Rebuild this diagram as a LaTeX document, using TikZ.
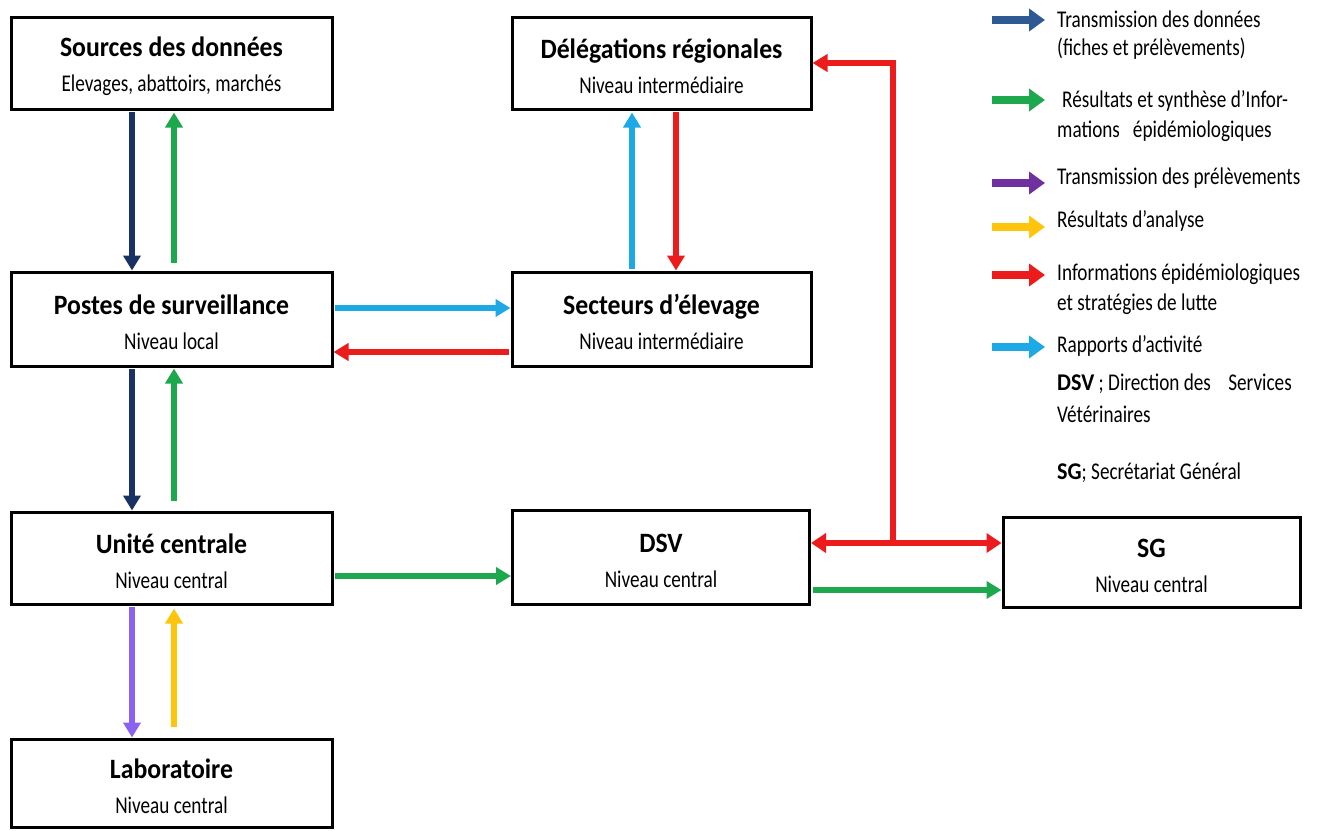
\documentclass[tikz,border=0pt]{standalone}
\usepackage{fontspec}
\setmainfont[FakeStretch=0.8]{Carlito}
\newfontfamily\bfam[FakeStretch=0.92]{Carlito}
\usetikzlibrary{arrows.meta}
\definecolor{cnavy}{HTML}{1A3263}
\definecolor{cgreen}{HTML}{1DA84E}
\definecolor{ccyan}{HTML}{1CA9E6}
\definecolor{cred}{HTML}{EC1C1C}
\definecolor{cpurple}{HTML}{8B62F0}
\definecolor{cyellow}{HTML}{FFC40C}
\definecolor{lnavy}{HTML}{2E5A94}
\definecolor{lpurple}{HTML}{7030A0}
\newcommand\bxt[2]{{\bfam\bfseries\fontsize{28}{35}\selectfont #1}\\#2}
\tikzset{
  box/.style={draw=black, line width=3pt, fill=white, inner sep=0pt, align=center,
    text height=61pt, font=\fontsize{24}{35}\selectfont},
  flow/.style={line width=5.5pt, -{Triangle[width=17pt,length=15pt]}},
  flow2/.style={line width=5.5pt, {Triangle[width=19pt,length=15pt]}-{Triangle[width=19pt,length=15pt]}},
  legarr/.style={line width=8pt, -{Triangle[width=22pt,length=16pt]}},
  legtxt/.style={anchor=base west, inner sep=0pt, font=\fontsize{24}{29}\selectfont},
}
\begin{document}
\begin{tikzpicture}[x=1pt,y=-1pt]
\useasboundingbox[fill=white] (0,0) rectangle (1324,830);

% boxes
\node[box, minimum width=321pt, minimum height=92pt] (src) at (171.5,63) {\bxt{Sources des données}{Elevages, abattoirs, marchés}};
\node[box, minimum width=321pt, minimum height=94pt] (pst) at (171.5,319) {\bxt{Postes de surveillance}{Niveau local}};
\node[box, minimum width=321pt, minimum height=92pt] (uc) at (171.5,558) {\bxt{Unité centrale}{Niveau central}};
\node[box, minimum width=321pt, minimum height=88pt] (lab) at (171.5,783) {\bxt{Laboratoire}{Niveau central}};
\node[box, minimum width=299pt, minimum height=92pt] (del) at (661.5,63) {\bxt{Délégations régionales}{Niveau intermédiaire}};
\node[box, minimum width=299pt, minimum height=94pt] (sec) at (661.5,319) {\bxt{Secteurs d’élevage}{Niveau intermédiaire}};
\node[box, minimum width=297pt, minimum height=94pt] (dsv) at (661,557) {\bxt{DSV}{Niveau central}};
\node[box, minimum width=297pt, minimum height=90pt] (sg) at (1151.5,562) {\bxt{SG}{Niveau central}};

% helper coordinates
\coordinate (xa) at (132,0);
\coordinate (xb) at (174,0);
\coordinate (xc) at (632,0);
\coordinate (xd) at (676,0);
\coordinate (ya) at (0,308);
\coordinate (yb) at (0,352);
\coordinate (yc) at (0,576);
\coordinate (yd) at (0,590);
\coordinate (j) at (893,543);

% left column
\draw[flow, cnavy, shorten <=1.5pt] (src.south -| xa) -- (pst.north -| xa);
\draw[flow, cgreen, shorten <=8pt, shorten >=2pt] (pst.north -| xb) -- (src.south -| xb);
\draw[flow, cnavy, shorten <=1.5pt] (pst.south -| xa) -- (uc.north -| xa);
\draw[flow, cgreen, shorten <=10pt, shorten >=1pt] (uc.north -| xb) -- (pst.south -| xb);
\draw[flow, cpurple, shorten <=1.5pt] (uc.south -| xa) -- (lab.north -| xa);
\draw[flow, cyellow, shorten <=11pt, shorten >=3pt] (lab.north -| xb) -- (uc.south -| xb);

% horizontal links
\draw[flow, ccyan, shorten <=1.5pt] (pst.east |- ya) -- (sec.west |- ya);
\draw[flow, cred, shorten <=1.5pt] (sec.west |- yb) -- (pst.east |- yb);
\draw[flow, cgreen, shorten <=1.5pt] (uc.east |- yc) -- (dsv.west |- yc);
\draw[flow, cgreen, shorten <=1.5pt] (dsv.east |- yd) -- (sg.west |- yd);

% middle column
\draw[flow, ccyan, shorten <=1.5pt, shorten >=2pt] (sec.north -| xc) -- (del.south -| xc);
\draw[flow, cred, shorten <=1.5pt] (del.south -| xd) -- (sec.north -| xd);

% red DSV <-> SG and to délégations
\draw[flow2, cred] (dsv.east |- j) -- (sg.west |- j);
\draw[flow, cred] (j) |- (del.east);

% legend
\coordinate (la1) at (992,20);  \coordinate (lb1) at (1045,20);
\coordinate (la2) at (992,100); \coordinate (lb2) at (1045,100);
\coordinate (la3) at (992,183); \coordinate (lb3) at (1045,183);
\coordinate (la4) at (992,227); \coordinate (lb4) at (1045,227);
\coordinate (la5) at (992,275); \coordinate (lb5) at (1045,275);
\coordinate (la6) at (992,347); \coordinate (lb6) at (1045,347);
\draw[legarr, lnavy] (la1) -- (lb1);
\draw[legarr, cgreen] (la2) -- (lb2);
\draw[legarr, lpurple] (la3) -- (lb3);
\draw[legarr, cyellow] (la4) -- (lb4);
\draw[legarr, cred] (la5) -- (lb5);
\draw[legarr, ccyan] (la6) -- (lb6);

\node[legtxt] (t1a) at (1057,27) {Transmission des données};
\node[legtxt] (t1b) at (1057,55) {(fiches et prélèvements)};
\node[legtxt] (t2a) at (1062,107) {Résultats et synthèse d’Infor-};
\node[legtxt] (t2b) at (1057,137) {mations\ \ \ épidémiologiques};
\node[legtxt] (t3) at (1057,184) {Transmission des prélèvements};
\node[legtxt] (t4) at (1057,227) {Résultats d’analyse};
\node[legtxt] (t5a) at (1057,280) {Informations épidémiologiques};
\node[legtxt] (t5b) at (1057,310) {et stratégies de lutte};
\node[legtxt] (t6) at (1057,352) {Rapports d’activité};
\node[legtxt] (t7a) at (1057,390) {{\bfam\bfseries DSV} ; Direction des\ \ \ \ Services};
\node[legtxt] (t7b) at (1057,422) {Vétérinaires};
\node[legtxt] (t8) at (1057,479) {{\bfam\bfseries SG}; Secrétariat Général};
\end{tikzpicture}
\end{document}
